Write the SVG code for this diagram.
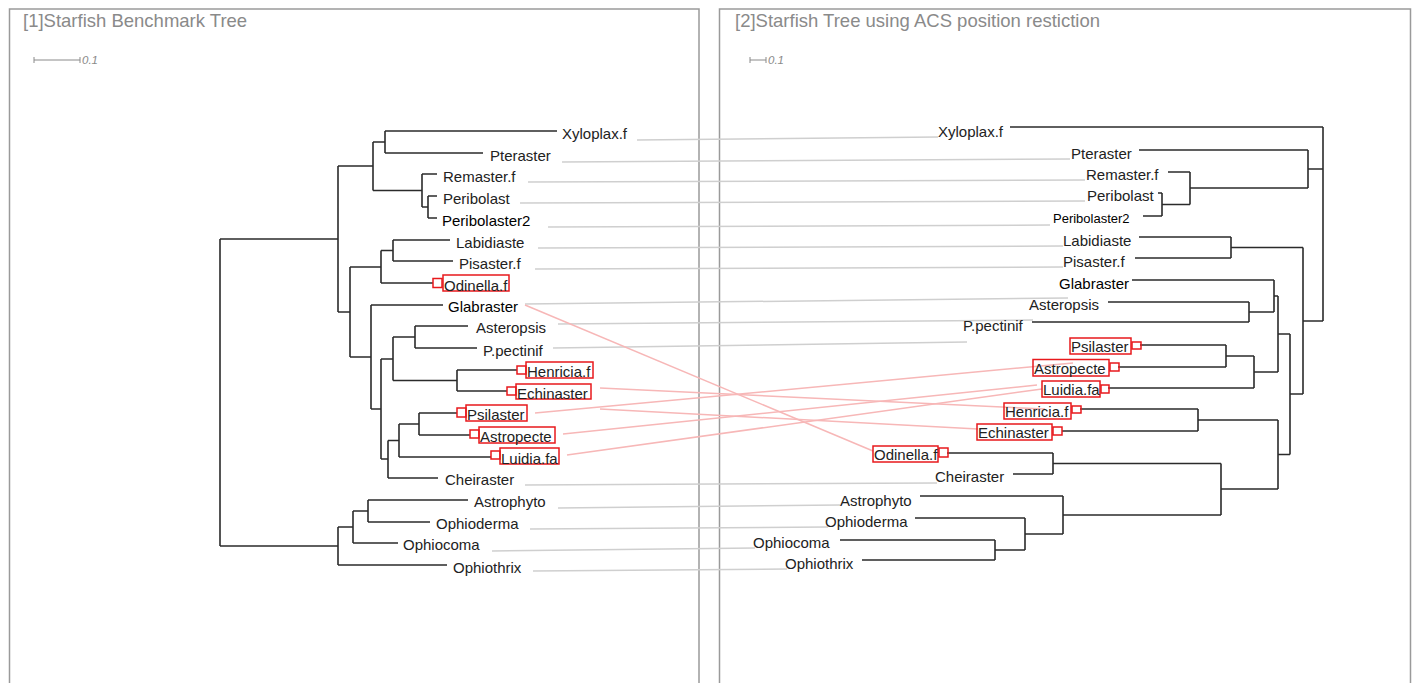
<svg xmlns="http://www.w3.org/2000/svg" width="1416" height="683" viewBox="0 0 1416 683">
<style>
.panel{fill:none;stroke:#9a9a9a;stroke-width:1.5}
.title{font-family:"Liberation Sans",Arial,sans-serif;font-size:18.5px;fill:#8a8a8a}
.scale{fill:none;stroke:#8a8a8a;stroke-width:1}
.scalet{font-family:"Liberation Sans",Arial,sans-serif;font-size:11.5px;font-style:italic;fill:#8a8a8a}
.tree{fill:none;stroke:#2b2b2b;stroke-width:1.6}
.lab{font-family:"Liberation Sans",Arial,sans-serif;font-size:15px;fill:#222}
.blk{fill:#000}
.sm{font-size:13px}
.box{fill:none;stroke:#e8191c;stroke-width:1.5}
.gc{fill:none;stroke:#cfcfcf;stroke-width:1.5}
.rc{fill:none;stroke:#f7b7b7;stroke-width:1.5}
</style>
<rect width="1416" height="683" fill="#fff"/>
<g id="panels">
<rect class="panel" x="9.5" y="9" width="689.5" height="700"/>
<rect class="panel" x="719.5" y="9" width="691" height="700"/>
<text class="title" x="23" y="27">[1]Starfish Benchmark Tree</text>
<text class="title" x="735" y="27">[2]Starfish Tree using ACS position restiction</text>
<path class="scale" d="M34 60H80M34 57V63M80 57V63"/>
<text class="scalet" x="82" y="64">0.1</text>
<path class="scale" d="M750 60H766M750 57V63M766 57V63"/>
<text class="scalet" x="768" y="64">0.1</text>
</g>
<g id="connectors">
<path class="gc" d="M637 140L938 137"/>
<path class="gc" d="M562 162L1070 159"/>
<path class="gc" d="M528 182L1085 180"/>
<path class="gc" d="M520 203L1085 201"/>
<path class="gc" d="M548 227L1050 225"/>
<path class="gc" d="M538 248L1063 246"/>
<path class="gc" d="M535 269L1063 267"/>
<path class="gc" d="M525 304L1068 298"/>
<path class="gc" d="M558 324L1033 320"/>
<path class="gc" d="M553 348L967 342"/>
<path class="gc" d="M525 485L937 483"/>
<path class="gc" d="M558 508L840 505"/>
<path class="gc" d="M530 529L828 527"/>
<path class="gc" d="M492 551L755 548"/>
<path class="gc" d="M533 571L787 569"/>
<path class="rc" d="M525 305L873 451"/>
<path class="rc" d="M600 388L1045 409"/>
<path class="rc" d="M600 409L978 429"/>
<path class="rc" d="M535 413L1073 363"/>
<path class="rc" d="M563 434L1037 385"/>
<path class="rc" d="M567 455L1042 389"/>
</g>
<g id="left-tree-edges">
<path class="tree" d="M220 239V546M220 239H338M220 546H338
M338 166V312M338 166H373M338 312H350
M373 142V190.5M373 142H385M373 190.5H422
M385 131V153M385 131H557M385 153H483
M422 174V207M422 174H437M422 207H428
M428 196V218M428 196H437M428 218H437
M350 267V357M350 267H381M350 357H371
M381 250.5V283M381 250.5H393M381 283H433
M393 240V261M393 240H450M393 261H453
M371 305V409M371 305H443M371 409H381
M381 359V459M381 359H393M381 459H388
M393 337V380.5M393 337H415M393 380.5H457
M415 326V348M415 326H468M415 348H477
M457 370V391M457 370H517M457 391H507
M388 440.5V478M388 440.5H399M388 478H438
M399 424V457M399 424H419M399 457H491
M419 413V435M419 413H457M419 435H470
M338 527V565M338 527H353M338 565H447
M353 511V543M353 511H368M353 543H398
M368 500V522M368 500H468M368 522H430"/>
</g>
<g id="right-tree-edges">
<path class="tree" d="M1323 127V321M1010 127H1323M1308 169H1323M1303 321H1323
M1308 150V188M1139 150H1308M1190 188H1308
M1190 172V204.5M1168 172H1190M1162 204.5H1190
M1162 193V216M1158 193H1162M1143 216H1162
M1303 247.5V394M1231 247.5H1303M1290 394H1303
M1231 237V258M1139 237H1231M1135 258H1231
M1278 296V372M1274 296H1278M1278 334H1290
M1274 280V312M1132 280H1274M1249 312H1274
M1249 302V322M1108 302H1249M1032 322H1249
M1254 356V388M1226 356H1254M1254 372H1278M1108 388H1254
M1226 345V367M1140 345H1226M1118 367H1226
M1290 334V454.5M1278 454.5H1290
M1278 420V489M1198 420H1278M1221 489H1278
M1198 409V431M1080 409H1198M1062 431H1198
M1221 463.5V515M1053 463.5H1221M1063 515H1221
M1053 453V474M947 453H1053M1013 474H1053
M1063 496V534M920 496H1063M1025 534H1063
M1025 518V550M915 518H1025M995 550H1025
M995 540V560M840 540H995M862 560H995"/>
</g>
<g id="left-leaves">
<g id="L-Xyloplax"><text class="lab" x="562" y="138.5">Xyloplax.f</text></g>
<g id="L-Pteraster"><text class="lab" x="490" y="160.5">Pteraster</text></g>
<g id="L-Remaster"><text class="lab" x="443" y="181.5">Remaster.f</text></g>
<g id="L-Peribolast"><text class="lab" x="443" y="203.5">Peribolast</text></g>
<g id="L-Peribolaster2"><text class="lab blk" x="442" y="225.5">Peribolaster2</text></g>
<g id="L-Labidiaste"><text class="lab" x="456" y="247.5">Labidiaste</text></g>
<g id="L-Pisaster"><text class="lab" x="459" y="268.5">Pisaster.f</text></g>
<g id="L-Odinella"><rect class="box" x="433" y="278.5" width="9" height="9"/><rect class="box" x="443" y="275" width="66" height="16"/><text class="lab" x="444" y="290.5">Odinella.f</text></g>
<g id="L-Glabraster"><text class="lab blk" x="448" y="312">Glabraster</text></g>
<g id="L-Asteropsis"><text class="lab" x="476" y="333">Asteropsis</text></g>
<g id="L-Ppectinif"><text class="lab" x="483" y="355.5">P.pectinif</text></g>
<g id="L-Henricia"><rect class="box" x="517" y="366" width="9" height="8"/><rect class="box" x="526" y="362" width="67" height="16"/><text class="lab" x="527" y="377">Henricia.f</text></g>
<g id="L-Echinaster"><rect class="box" x="507" y="387" width="9" height="8"/><rect class="box" x="516" y="384" width="75" height="15"/><text class="lab" x="517" y="398.5">Echinaster</text></g>
<g id="L-Psilaster"><rect class="box" x="457" y="408" width="9" height="9"/><rect class="box" x="466" y="405" width="61" height="16"/><text class="lab" x="467" y="420">Psilaster</text></g>
<g id="L-Astropecte"><rect class="box" x="470" y="430" width="9" height="8"/><rect class="box" x="479" y="427" width="76" height="16"/><text class="lab" x="480" y="442">Astropecte</text></g>
<g id="L-Luidia"><rect class="box" x="491" y="451" width="9" height="8"/><rect class="box" x="500" y="448" width="59" height="16"/><text class="lab" x="501" y="463.5">Luidia.fa</text></g>
<g id="L-Cheiraster"><text class="lab" x="445" y="485">Cheiraster</text></g>
<g id="L-Astrophyto"><text class="lab" x="474" y="507">Astrophyto</text></g>
<g id="L-Ophioderma"><text class="lab" x="436" y="529">Ophioderma</text></g>
<g id="L-Ophiocoma"><text class="lab" x="403" y="550">Ophiocoma</text></g>
<g id="L-Ophiothrix"><text class="lab" x="453" y="572.5">Ophiothrix</text></g>
</g>
<g id="right-leaves">
<g id="R-Xyloplax"><text class="lab" x="938" y="136.5">Xyloplax.f</text></g>
<g id="R-Pteraster"><text class="lab" x="1071" y="158.5">Pteraster</text></g>
<g id="R-Remaster"><text class="lab" x="1086" y="179.5">Remaster.f</text></g>
<g id="R-Peribolast"><text class="lab" x="1087" y="200.5">Peribolast</text></g>
<g id="R-Peribolaster2"><text class="lab blk sm" x="1053" y="222.5">Peribolaster2</text></g>
<g id="R-Labidiaste"><text class="lab" x="1063" y="245.5">Labidiaste</text></g>
<g id="R-Pisaster"><text class="lab" x="1063" y="266.5">Pisaster.f</text></g>
<g id="R-Glabraster"><text class="lab blk" x="1059" y="288.5">Glabraster</text></g>
<g id="R-Asteropsis"><text class="lab" x="1029" y="309.5">Asteropsis</text></g>
<g id="R-Ppectinif"><text class="lab" x="963" y="330.5">P.pectinif</text></g>
<g id="R-Psilaster"><rect class="box" x="1070" y="338" width="61" height="16"/><rect class="box" x="1132" y="342" width="9" height="7"/><text class="lab" x="1071" y="352">Psilaster</text></g>
<g id="R-Astropecte"><rect class="box" x="1033" y="359.5" width="76" height="16.5"/><rect class="box" x="1110" y="363" width="9" height="8"/><text class="lab" x="1034" y="373.5">Astropecte</text></g>
<g id="R-Luidia"><rect class="box" x="1042" y="381" width="58" height="16"/><rect class="box" x="1101" y="385" width="8" height="8"/><text class="lab" x="1043" y="395">Luidia.fa</text></g>
<g id="R-Henricia"><rect class="box" x="1004" y="403" width="67" height="16"/><rect class="box" x="1072" y="406" width="9" height="7"/><text class="lab" x="1005" y="417">Henricia.f</text></g>
<g id="R-Echinaster"><rect class="box" x="977" y="424" width="75" height="16"/><rect class="box" x="1053" y="427" width="9" height="8"/><text class="lab" x="978" y="438">Echinaster</text></g>
<g id="R-Odinella"><rect class="box" x="873" y="446" width="65" height="16"/><rect class="box" x="939" y="448" width="9" height="9"/><text class="lab" x="874" y="460">Odinella.f</text></g>
<g id="R-Cheiraster"><text class="lab" x="935" y="481.5">Cheiraster</text></g>
<g id="R-Astrophyto"><text class="lab" x="840" y="505.5">Astrophyto</text></g>
<g id="R-Ophioderma"><text class="lab" x="825" y="526.5">Ophioderma</text></g>
<g id="R-Ophiocoma"><text class="lab" x="753" y="547.5">Ophiocoma</text></g>
<g id="R-Ophiothrix"><text class="lab" x="785" y="568.5">Ophiothrix</text></g>
</g>
</svg>
